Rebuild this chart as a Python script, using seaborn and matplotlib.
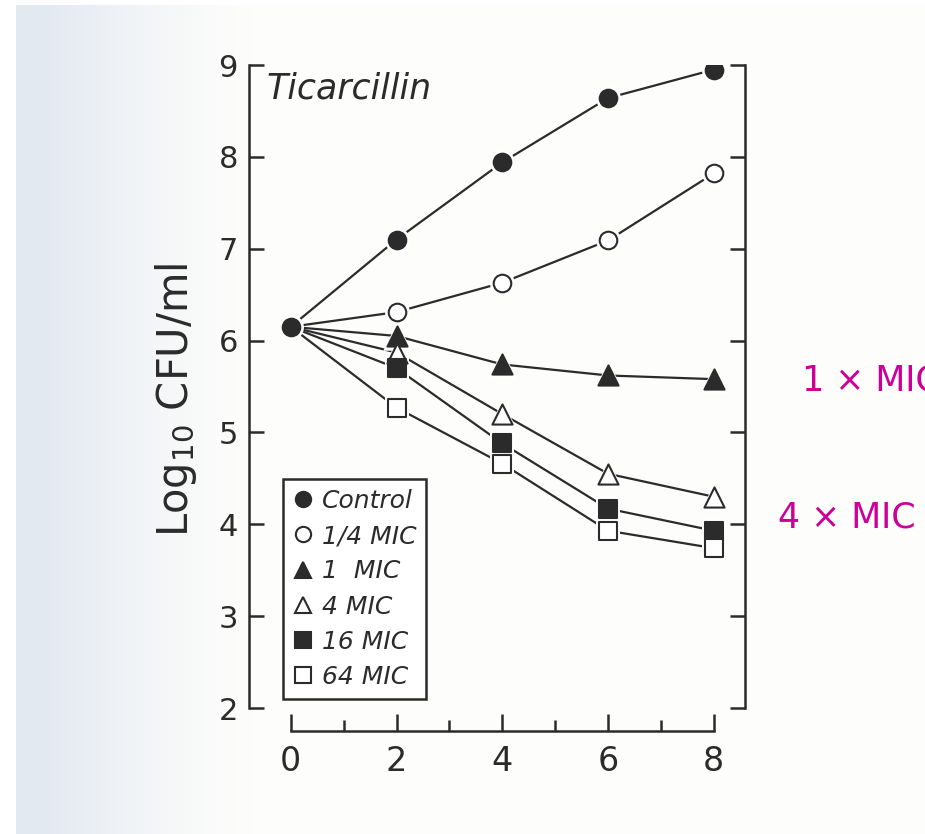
import numpy as np
import pandas as pd
import matplotlib
matplotlib.use("Agg")
import matplotlib.pyplot as plt
from matplotlib.lines import Line2D
from matplotlib.ticker import MultipleLocator
import seaborn as sns

# Time-kill curves for ticarcillin (log10 CFU/ml vs hours)
hours = [0, 2, 4, 6, 8]
control = [6.15, 7.10, 7.94, 8.64, 8.95]
quarter_mic = [6.15, 6.31, 6.63, 7.09, 7.82]
one_mic = [6.15, 6.05, 5.74, 5.62, 5.58]
four_mic = [6.15, 5.87, 5.20, 4.55, 4.30]
sixteen_mic = [6.15, 5.70, 4.88, 4.17, 3.93]
sixtyfour_mic = [6.15, 5.27, 4.66, 3.93, 3.74]

series_names = ["Control", "1/4 MIC", "1  MIC", "4 MIC", "16 MIC", "64 MIC"]
series_values = [control, quarter_mic, one_mic, four_mic, sixteen_mic, sixtyfour_mic]
x_tick_labels = ["0", "2", "4", "6", "8"]
y_tick_labels = ["2", "3", "4", "5", "6", "7", "8", "9"]
side_notes = ["1 \u00d7 MIC", "4 \u00d7 MIC"]

INK = "#2b2b2b"
# marker, filled?, size (pt^2)
styles = {
    "Control": ("o", True, 160),
    "1/4 MIC": ("o", False, 160),
    "1  MIC": ("^", True, 210),
    "4 MIC": ("^", False, 210),
    "16 MIC": ("s", True, 150),
    "64 MIC": ("s", False, 150),
}

frames = []
for name, vals in zip(series_names, series_values):
    frames.append(pd.DataFrame({"hours": hours, "log_cfu": vals, "series": name}))
df = pd.concat(frames, ignore_index=True)

sns.set_theme(style="white")
plt.rcParams["font.family"] = ["DejaVu Sans"]

W, H = 925, 834
fig = plt.figure(figsize=(W / 100, H / 100), dpi=100)

# page background: faint bluish band on the left edge
xs = np.arange(W)
pale = np.array([228, 234, 242]) / 255.0
base = np.array([253, 253, 251]) / 255.0
w = np.clip((250 - xs) / 200.0, 0, 1) ** 1.3
band = base[None, :] * (1 - w[:, None]) + pale[None, :] * w[:, None]
bg = np.repeat(band[None, :, :], H, axis=0)
bg[:, :16, :] = 1.0
bg[:5, :, :] = 1.0
bg_ax = fig.add_axes([0, 0, 1, 1], zorder=-10)
bg_ax.imshow(bg, aspect="auto", extent=[0, 1, 0, 1])
bg_ax.axis("off")

ax = fig.add_axes([249 / W, 1 - 708 / H, (745 - 249) / W, (708 - 65) / H])
ax.patch.set_alpha(0)

# connecting lines
for name in series_names:
    sub = df[df["series"] == name]
    sns.lineplot(data=sub, x="hours", y="log_cfu", ax=ax, color=INK,
                 linewidth=1.6, legend=False, zorder=2, sort=False)


def marker_points(name):
    sub = df[df["series"] == name]
    # the shared inoculum at t=0 carries a single symbol (Control)
    if name != series_names[0]:
        sub = sub[sub["hours"] > 0]
    return sub


# white halos so lines stop short of the symbols
for name in series_names:
    m, filled, s = styles[name]
    sns.scatterplot(data=marker_points(name), x="hours", y="log_cfu", ax=ax,
                    marker=m, s=s * 2.0, color="white", edgecolor="white",
                    linewidth=0, legend=False, zorder=3)

# symbols
for name in series_names:
    m, filled, s = styles[name]
    sns.scatterplot(data=marker_points(name), x="hours", y="log_cfu", ax=ax,
                    marker=m, s=s, color=INK if filled else "white",
                    edgecolor=INK, linewidth=1.5, legend=False, zorder=4)

ax.set_xlim(-0.79, 8.59)
ax.set_ylim(2, 9)
ax.set_xlabel("")
ax.set_ylabel("")

for side in ["left", "right", "bottom"]:
    ax.spines[side].set_visible(True)
    ax.spines[side].set_color(INK)
    ax.spines[side].set_linewidth(1.8)
ax.spines["top"].set_visible(False)
ax.spines["bottom"].set_position(("outward", 16.5))
ax.spines["bottom"].set_bounds(0, 8)

ax.set_xticks(hours)
ax.set_xticklabels(x_tick_labels, fontsize=24, color=INK)
ax.xaxis.set_minor_locator(MultipleLocator(1))
ax.set_yticks([int(v) for v in y_tick_labels])
ax.set_yticklabels(y_tick_labels, fontsize=22, color=INK)

ax.tick_params(axis="y", which="major", direction="in", left=True, right=True,
               length=11, width=1.8, color=INK, pad=8)
ax.tick_params(axis="x", which="major", direction="in", bottom=True,
               length=12, width=1.8, color=INK, pad=10)
ax.tick_params(axis="x", which="minor", direction="in", bottom=True,
               length=8, width=1.8, color=INK)

# panel title
ax.text(0.036, 0.964, "Ticarcillin", transform=ax.transAxes, fontsize=25,
        fontstyle="italic", color=INK, ha="left", va="center")

# legend with symbols only
handles = []
for name in series_names:
    m, filled, s = styles[name]
    handles.append(Line2D([], [], linestyle="none", marker=m,
                          markersize=11 if m != "^" else 12,
                          markerfacecolor=INK if filled else "white",
                          markeredgecolor=INK, markeredgewidth=1.5))
leg = ax.legend(handles, series_names, loc="lower left",
                bbox_to_anchor=((283 - 249) / 496, (708 - 699) / 643),
                frameon=True, fancybox=False, framealpha=1, borderaxespad=0,
                handlelength=0.8, handletextpad=0.35, labelspacing=0.45,
                borderpad=0.4,
                prop={"size": 18, "style": "italic"})
leg.get_frame().set_edgecolor(INK)
leg.get_frame().set_linewidth(1.8)
for t in leg.get_texts():
    t.set_color(INK)

# y-axis label
fig.text(176 / W, 1 - 400 / H, "Log$_{10}$ CFU/ml", rotation=90, fontsize=30,
         color=INK, ha="center", va="center")

# magenta annotations at the right edge
fig.text(802 / W, 1 - 380 / H, side_notes[0], fontsize=25, color="#CC0099",
         ha="left", va="center")
fig.text(778 / W, 1 - 517 / H, side_notes[1], fontsize=25, color="#CC0099",
         ha="left", va="center")

fig.savefig("out.png", dpi=100)
